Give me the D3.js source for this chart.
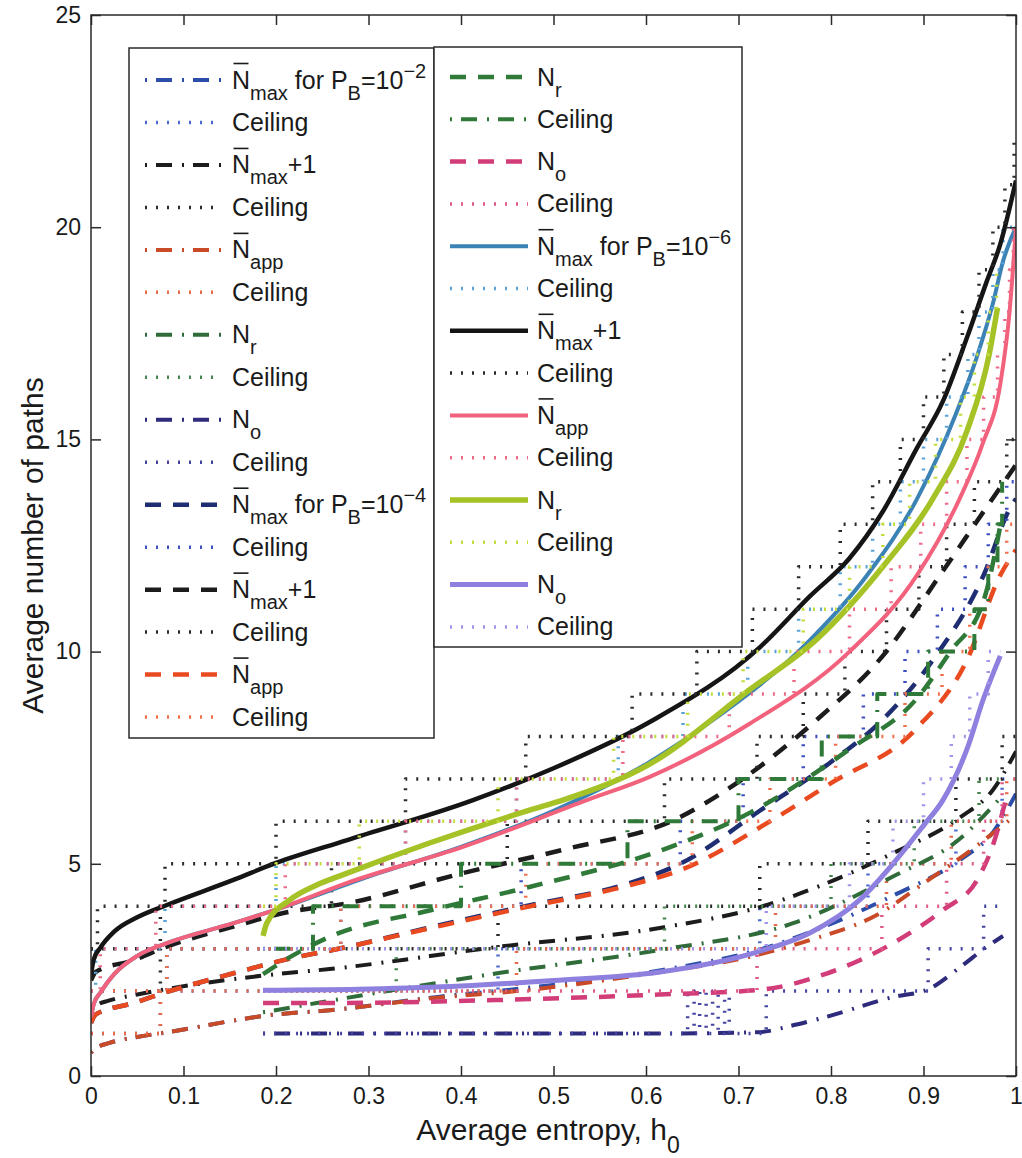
<!DOCTYPE html>
<html>
<head>
<meta charset="utf-8">
<script src="https://cdn.jsdelivr.net/npm/d3@7"></script>
<style>
  body { margin: 0; background: #fff; }
  text { font-family: "Liberation Sans", Arial, Helvetica, sans-serif; fill: #1a1a1a; }
</style>
</head>
<body>
<script>
// ---- axis ticks ----
let xTicks = [0, 0.1, 0.2, 0.3, 0.4, 0.5, 0.6, 0.7, 0.8, 0.9, 1]
let yTicks = [0, 5, 10, 15, 20, 25]

// ---- P_B = 1e-2 (dash-dot) ----
let nmaxP2 = [[0,0.55],[0.005,0.65],[0.02,0.78],[0.05,0.92],[0.082,1.03],[0.2,1.45],[0.258,1.55],[0.377,1.87],[0.46,2.05],[0.618,2.5],[0.723,2.98],[0.796,3.55],[0.867,4.25],[0.94,5.1],[0.975,5.74],[1.0,6.65]]
let ceilNmaxP2 = [[0,1],[0.075,2],[0.44,3],[0.723,4],[0.84,5],[0.935,6],[0.985,7],[1,7]]
let nmax1P2 = [[0,1.55],[0.005,1.65],[0.02,1.78],[0.05,1.92],[0.082,2.05],[0.2,2.4],[0.258,2.52],[0.439,3.04],[0.618,3.5],[0.723,3.98],[0.796,4.55],[0.867,5.25],[0.94,6.1],[0.975,6.74],[1.0,7.65]]
let ceilNmax1P2 = [[0,2],[0.075,3],[0.44,4],[0.723,5],[0.84,6],[0.935,7],[0.985,8],[1,8]]
let nappP2 = [[0,0.55],[0.005,0.65],[0.02,0.78],[0.05,0.92],[0.082,1.03],[0.2,1.45],[0.258,1.55],[0.377,1.85],[0.46,2.0],[0.6,2.4],[0.72,2.85],[0.777,3.2],[0.85,3.8],[0.904,4.6],[0.95,5.3],[0.997,6.1]]
let ceilNappP2 = [[0,1],[0.075,2],[0.46,3],[0.74,4],[0.86,5],[0.93,6],[0.99,7],[1,7]]
let nrP2 = [[0.186,1.5],[0.244,1.72],[0.348,2.1],[0.439,2.42],[0.615,2.97],[0.759,3.6],[0.867,4.7],[0.94,5.6],[0.985,6.6]]
let ceilNrP2 = [[0.186,2],[0.33,3],[0.62,4],[0.8,5],[0.89,6],[0.96,7],[0.985,7]]
let noP2 = [[0.186,1.0],[0.4,1.0],[0.6,1.0],[0.72,1.03],[0.76,1.2],[0.796,1.4],[0.867,1.86],[0.904,2.03],[0.94,2.57],[0.968,3.04],[0.986,3.3]]
let ceilNoP2 = [[0.186,1],[0.645,2],[0.652,1],[0.658,2],[0.665,1],[0.672,2],[0.678,1],[0.685,2],[0.69,1],[0.73,2],[0.905,3],[0.965,4],[0.986,4]]

// ---- P_B = 1e-4 (dashed) ----
let nmaxP4 = [[0,1.25],[0.005,1.45],[0.046,1.72],[0.082,1.98],[0.154,2.42],[0.208,2.73],[0.277,3.04],[0.366,3.5],[0.464,3.98],[0.583,4.55],[0.637,5.0],[0.723,6.25],[0.8,7.4],[0.856,8.4],[0.91,9.8],[0.965,11.8],[0.994,13.4],[1.0,13.6]]
let ceilNmaxP4 = [[0,2],[0.082,3],[0.27,4],[0.465,5],[0.637,6],[0.705,7],[0.77,8],[0.835,9],[0.88,10],[0.915,11],[0.945,12],[0.97,13],[0.99,14],[1,14]]
let nmax1P4 = [[0,2.25],[0.005,2.45],[0.046,2.73],[0.082,3.05],[0.154,3.52],[0.208,3.84],[0.277,4.07],[0.402,4.78],[0.51,5.33],[0.637,6.1],[0.677,6.6],[0.785,8.4],[0.856,9.9],[0.921,11.9],[0.965,13.3],[1.0,14.4]]
let ceilNmax1P4 = [[0,3],[0.075,4],[0.26,5],[0.45,6],[0.62,7],[0.72,8],[0.77,9],[0.815,10],[0.86,11],[0.895,12],[0.925,13],[0.955,14],[0.99,15],[1,15]]
let nappP4 = [[0,1.25],[0.005,1.45],[0.046,1.72],[0.082,1.98],[0.154,2.42],[0.208,2.73],[0.277,3.04],[0.366,3.48],[0.464,3.95],[0.583,4.5],[0.637,4.85],[0.734,6.0],[0.8,6.9],[0.893,8.2],[0.947,9.8],[0.983,11.8],[1.0,12.4]]
let ceilNappP4 = [[0,2],[0.082,3],[0.27,4],[0.47,5],[0.65,6],[0.734,7],[0.805,8],[0.88,9],[0.92,10],[0.95,11],[0.97,12],[0.99,13],[1,13]]
let nrP4 = [[0.186,2.4],[0.215,2.8],[0.258,3.28],[0.366,3.9],[0.475,4.46],[0.618,5.33],[0.712,6.2],[0.82,7.7],[0.893,8.9],[0.929,10.0],[0.965,11.2],[0.985,13.2]]
let ceilNrP4 = [[0.186,3],[0.24,4],[0.40,5],[0.58,6],[0.70,7],[0.79,8],[0.85,9],[0.905,10],[0.955,11],[0.97,12],[0.98,13],[0.985,14]]
let noP4 = [[0.186,1.72],[0.258,1.72],[0.439,1.79],[0.615,1.92],[0.723,2.03],[0.796,2.42],[0.867,3.13],[0.921,3.91],[0.958,4.62],[0.976,5.5],[0.99,6.6]]
let ceilNoP4 = [[0.186,2],[0.72,3],[0.855,4],[0.925,5],[0.965,6],[0.985,7],[0.99,7]]

// ---- P_B = 1e-6 (solid) ----
let nmaxP6 = [[0,1.39],[0.003,1.7],[0.01,1.96],[0.025,2.4],[0.05,2.83],[0.082,3.13],[0.154,3.6],[0.208,3.98],[0.3,4.7],[0.4,5.4],[0.5,6.25],[0.604,7.4],[0.677,8.46],[0.774,10.2],[0.839,11.8],[0.893,13.6],[0.935,15.6],[0.957,16.9],[0.975,18.2],[0.986,19.2],[1.0,20.0]]
let ceilNmaxP6 = [[0,2],[0.005,3],[0.08,4],[0.2,5],[0.34,6],[0.46,7],[0.57,8],[0.64,9],[0.71,10],[0.765,11],[0.81,12],[0.845,13],[0.875,14],[0.9,15],[0.925,16],[0.948,17],[0.96,18],[0.975,19],[0.986,20],[1,20]]
let nmax1P6 = [[0,2.4],[0.003,2.75],[0.01,3.02],[0.025,3.4],[0.05,3.74],[0.082,4.03],[0.154,4.62],[0.2,5.02],[0.277,5.56],[0.413,6.5],[0.5,7.25],[0.604,8.34],[0.723,10.1],[0.777,11.3],[0.82,12.2],[0.856,13.3],[0.893,14.8],[0.921,15.9],[0.947,17.4],[0.968,18.7],[0.983,19.6],[1.0,21.1]]
let ceilNmax1P6 = [[0,3],[0.007,4],[0.08,5],[0.2,6],[0.34,7],[0.47,8],[0.585,9],[0.655,10],[0.715,11],[0.765,12],[0.81,13],[0.845,14],[0.875,15],[0.9,16],[0.922,17],[0.942,18],[0.96,19],[0.975,20],[0.988,21],[0.998,22],[1,22]]
let nappP6 = [[0,1.39],[0.003,1.7],[0.01,1.96],[0.025,2.4],[0.05,2.83],[0.082,3.13],[0.154,3.6],[0.208,3.98],[0.277,4.55],[0.402,5.4],[0.536,6.5],[0.604,7.05],[0.712,8.3],[0.82,10.0],[0.893,11.8],[0.939,13.6],[0.964,14.9],[0.983,16.3],[0.993,18.0],[1.0,20.0]]
let ceilNappP6 = [[0,2],[0.01,3],[0.07,4],[0.21,5],[0.34,6],[0.46,7],[0.575,8],[0.69,9],[0.76,10],[0.82,11],[0.865,12],[0.897,13],[0.925,14],[0.947,15],[0.965,16],[0.98,17],[0.988,18],[0.993,19],[0.997,20],[1,20]]
let nrP6 = [[0.186,3.3],[0.19,3.6],[0.215,4.15],[0.244,4.5],[0.277,4.78],[0.366,5.49],[0.475,6.27],[0.51,6.5],[0.604,7.35],[0.712,9.1],[0.785,10.3],[0.856,12.0],[0.91,13.6],[0.947,15.2],[0.971,17.0],[0.98,18.1]]
let ceilNrP6 = [[0.186,4],[0.2,5],[0.29,6],[0.44,7],[0.565,8],[0.645,9],[0.705,10],[0.77,11],[0.82,12],[0.856,13],[0.885,14],[0.913,15],[0.94,16],[0.955,17],[0.97,18],[0.979,19],[0.98,19]]
let noP6 = [[0.186,2.02],[0.3,2.05],[0.4,2.12],[0.5,2.25],[0.615,2.45],[0.72,2.92],[0.777,3.37],[0.831,4.15],[0.867,5.0],[0.9,5.9],[0.921,6.5],[0.947,7.7],[0.965,8.9],[0.983,9.9]]
let ceilNoP6 = [[0.186,3],[0.73,4],[0.82,5],[0.867,6],[0.9,7],[0.93,8],[0.95,9],[0.97,10],[0.983,10]]

// ---- legend label text ----
let lblNmax2 = [["N","bar"],["max","sub"],[" for P","txt"],["B","sub"],["=10","txt"],["\u22122","sup"]]
let lblNmax4 = [["N","bar"],["max","sub"],[" for P","txt"],["B","sub"],["=10","txt"],["\u22124","sup"]]
let lblNmax6 = [["N","bar"],["max","sub"],[" for P","txt"],["B","sub"],["=10","txt"],["\u22126","sup"]]
let lblNmax1 = [["N","bar"],["max","sub"],["+1","txt"]]
let lblNapp = [["N","bar"],["app","sub"]]
let lblNr = [["N","txt"],["r","sub"]]
let lblNo = [["N","txt"],["o","sub"]]
let lblCeil = [["Ceiling","txt"]]

// line styles
let dashes = { dashdot: "2,9,16,10", dashed: "16,12", dotted: "2,9", solid: null }

// plotting order = legend order
let series = [
  { data: nmaxP2, kind: "line", color: "#2c4ea8", dash: "dashdot", w: 4, label: lblNmax2 },
  { data: ceilNmaxP2, kind: "step", color: "#4a6ad0", dash: "dotted", w: 3.5, label: lblCeil },
  { data: nmax1P2, kind: "line", color: "#1c1c1c", dash: "dashdot", w: 4, label: lblNmax1 },
  { data: ceilNmax1P2, kind: "step", color: "#2a2a2a", dash: "dotted", w: 3.5, label: lblCeil },
  { data: nappP2, kind: "line", color: "#c84a26", dash: "dashdot", w: 4, label: lblNapp },
  { data: ceilNappP2, kind: "step", color: "#e8684a", dash: "dotted", w: 3.5, label: lblCeil },
  { data: nrP2, kind: "line", color: "#2f6c3a", dash: "dashdot", w: 4, label: lblNr },
  { data: ceilNrP2, kind: "step", color: "#45854e", dash: "dotted", w: 3.5, label: lblCeil },
  { data: noP2, kind: "line", color: "#2e2b7c", dash: "dashdot", w: 4, label: lblNo },
  { data: ceilNoP2, kind: "step", color: "#4543a0", dash: "dotted", w: 3.5, label: lblCeil },
  { data: nmaxP4, kind: "line", color: "#1f2e72", dash: "dashed", w: 4.5, label: lblNmax4 },
  { data: ceilNmaxP4, kind: "step", color: "#3d4fc0", dash: "dotted", w: 3.5, label: lblCeil },
  { data: nmax1P4, kind: "line", color: "#1c1c1c", dash: "dashed", w: 4.5, label: lblNmax1 },
  { data: ceilNmax1P4, kind: "step", color: "#2a2a2a", dash: "dotted", w: 3.5, label: lblCeil },
  { data: nappP4, kind: "line", color: "#ea4a20", dash: "dashed", w: 4.5, label: lblNapp },
  { data: ceilNappP4, kind: "step", color: "#f0704e", dash: "dotted", w: 3.5, label: lblCeil },
  { data: nrP4, kind: "line", color: "#2f7a38", dash: "dashed", w: 4.5, label: lblNr },
  { data: ceilNrP4, kind: "step", color: "#2f7a38", dash: "dashdot", w: 4, label: lblCeil },
  { data: noP4, kind: "line", color: "#d23c78", dash: "dashed", w: 4.5, label: lblNo },
  { data: ceilNoP4, kind: "step", color: "#e05a88", dash: "dotted", w: 3.5, label: lblCeil },
  { data: nmaxP6, kind: "line", color: "#3b82b5", dash: "solid", w: 4, label: lblNmax6 },
  { data: ceilNmaxP6, kind: "step", color: "#5aa2d8", dash: "dotted", w: 3.5, label: lblCeil },
  { data: nmax1P6, kind: "line", color: "#151515", dash: "solid", w: 4.5, label: lblNmax1 },
  { data: ceilNmax1P6, kind: "step", color: "#2a2a2a", dash: "dotted", w: 3.5, label: lblCeil },
  { data: nappP6, kind: "line", color: "#f2627c", dash: "solid", w: 4, label: lblNapp },
  { data: ceilNappP6, kind: "step", color: "#ec6a88", dash: "dotted", w: 3.5, label: lblCeil },
  { data: nrP6, kind: "line", color: "#a5c226", dash: "solid", w: 5.5, label: lblNr },
  { data: ceilNrP6, kind: "step", color: "#c4dc3c", dash: "dotted", w: 3.5, label: lblCeil },
  { data: noP6, kind: "line", color: "#8e80de", dash: "solid", w: 5, label: lblNo },
  { data: ceilNoP6, kind: "step", color: "#a394ea", dash: "dotted", w: 3.5, label: lblCeil }
]

let W = 1022, H = 1158
let plot = { left: 91, right: 1016, top: 15, bottom: 1076 }

let svg = d3.select("body").append("svg")
  .attr("width", W)
  .attr("height", H)

let xScale = d3.scaleLinear().domain([0, 1]).range([plot.left, plot.right])
let yScale = d3.scaleLinear().domain([0, 25]).range([plot.bottom, plot.top])

svg.append("clipPath").attr("id", "clip")
  .append("rect")
  .attr("x", plot.left).attr("y", plot.top)
  .attr("width", plot.right - plot.left).attr("height", plot.bottom - plot.top)

let smooth = d3.line()
  .x(d => xScale(d[0]))
  .y(d => yScale(d[1]))
  .curve(d3.curveMonotoneX)

let steps = d3.line()
  .x(d => xScale(d[0]))
  .y(d => yScale(d[1]))
  .curve(d3.curveStepAfter)

let lines = svg.append("g").attr("clip-path", "url(#clip)")

series.forEach(s => {
  lines.append("path")
    .datum(s.data)
    .attr("d", s.kind === "step" ? steps : smooth)
    .attr("fill", "none")
    .attr("stroke", s.color)
    .attr("stroke-width", s.w)
    .attr("stroke-dasharray", dashes[s.dash])
    .attr("stroke-linejoin", "round")
})

// axes, MATLAB style: ticks inside on all four sides
let fmt = d => String(d)
svg.append("g")
  .attr("transform", "translate(0," + plot.bottom + ")")
  .call(d3.axisBottom(xScale).tickValues(xTicks).tickFormat(fmt).tickSizeInner(-10).tickSizeOuter(0).tickPadding(12))
  .call(g => g.selectAll("text").attr("font-size", 23).attr("font-family", null))
svg.append("g")
  .attr("transform", "translate(0," + plot.top + ")")
  .call(d3.axisTop(xScale).tickValues(xTicks).tickFormat("").tickSizeInner(-10).tickSizeOuter(0))
svg.append("g")
  .attr("transform", "translate(" + plot.left + ",0)")
  .call(d3.axisLeft(yScale).tickValues(yTicks).tickFormat(fmt).tickSizeInner(-10).tickSizeOuter(0).tickPadding(10))
  .call(g => g.selectAll("text").attr("font-size", 23).attr("font-family", null))
svg.append("g")
  .attr("transform", "translate(" + plot.right + ",0)")
  .call(d3.axisRight(yScale).tickValues(yTicks).tickFormat("").tickSizeInner(-10).tickSizeOuter(0))

svg.selectAll(".domain").remove()
svg.selectAll(".tick line").attr("stroke", "#2a2a2a").attr("stroke-width", 1.5)

svg.append("rect")
  .attr("x", plot.left).attr("y", plot.top)
  .attr("width", plot.right - plot.left).attr("height", plot.bottom - plot.top)
  .attr("fill", "none").attr("stroke", "#2a2a2a").attr("stroke-width", 1.5)

// axis labels
let xl = svg.append("text")
  .attr("x", 548).attr("y", 1140)
  .attr("text-anchor", "middle")
  .attr("font-size", 30)
xl.append("tspan").text("Average entropy, h")
xl.append("tspan").attr("dy", 13).attr("font-size", 23).text("0")

svg.append("text")
  .attr("transform", "translate(43," + ((plot.top + plot.bottom) / 2) + ") rotate(-90)")
  .attr("text-anchor", "middle")
  .attr("font-size", 30)
  .text("Average number of paths")

// legends
function drawLabel(g, x, y, parts) {
  let t = g.append("text").attr("x", x).attr("y", y).attr("font-size", 25)
  let off = 0
  parts.forEach(p => {
    let target = p[1] === "sub" ? 11 : p[1] === "sup" ? -11 : 0
    let fs = (p[1] === "sub" || p[1] === "sup") ? 20 : 25
    t.append("tspan").attr("dy", target - off).attr("font-size", fs).text(p[0])
    off = target
    if (p[1] === "bar") {
      g.append("line")
        .attr("x1", x + 1.5).attr("x2", x + 16.5)
        .attr("y1", y - 25).attr("y2", y - 25)
        .attr("stroke", "#1a1a1a").attr("stroke-width", 1.6)
    }
  })
}

function drawLegend(items, box, row0, rowStep, lineX0, lineX1, textX) {
  let g = svg.append("g")
  g.append("rect")
    .attr("x", box.x).attr("y", box.y).attr("width", box.w).attr("height", box.h)
    .attr("fill", "#fff").attr("stroke", "#2a2a2a").attr("stroke-width", 1.5)
  items.forEach((s, i) => {
    let y = row0 + rowStep * i
    g.append("line")
      .attr("x1", lineX0).attr("x2", lineX1).attr("y1", y).attr("y2", y)
      .attr("stroke", s.color).attr("stroke-width", s.w)
      .attr("stroke-dasharray", dashes[s.dash])
    drawLabel(g, textX, y + 8.5, s.label)
  })
}

drawLegend(series.slice(0, 16), { x: 129, y: 48, w: 305, h: 690 }, 80, 42.47, 145, 221, 232)
drawLegend(series.slice(16), { x: 434, y: 47, w: 308, h: 600 }, 77, 42.3, 450, 528, 537)
</script>
</body>
</html>
